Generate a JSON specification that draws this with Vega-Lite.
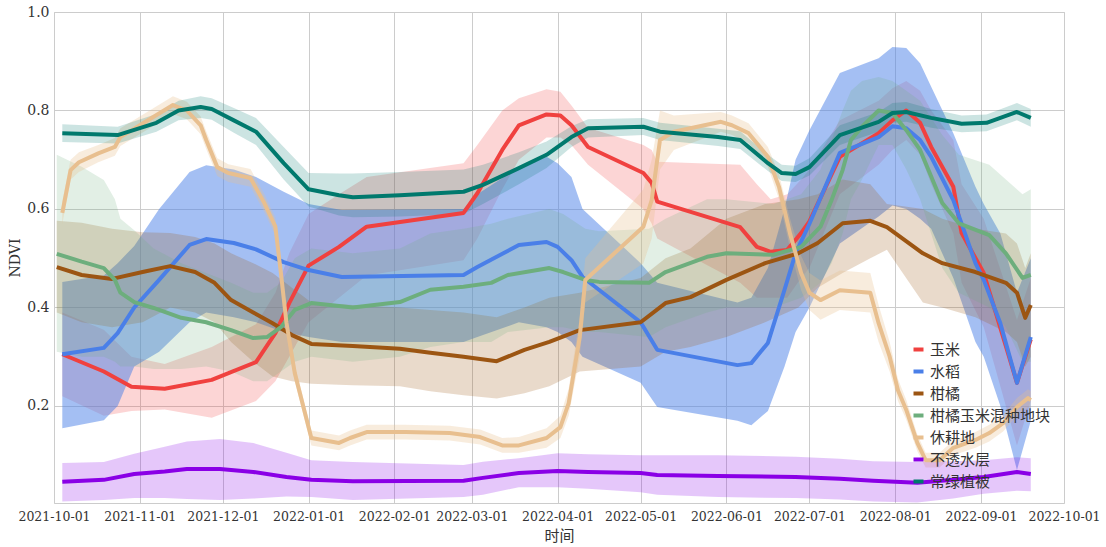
{
"$schema": "https://vega.github.io/schema/vega-lite/v6.json",
"width": 1010, "height": 491,
"autosize": {"type": "none"},
"padding": {"left": 54, "top": 12, "right": 42, "bottom": 44},
"background": "white",
"config": {
  "view": {"stroke": "#cccccc", "strokeWidth": 1},
  "axis": {"grid": true, "gridColor": "#cccccc", "gridWidth": 1, "domain": false, "ticks": false,
    "labelColor": "#333333", "titleColor": "#333333", "titleFontWeight": "normal"},
  "axisX": {"labelFont": "DejaVu Serif", "titleFont": "Noto Sans CJK SC", "labelFontSize": 12.5, "labelPadding": 7, "titleFontSize": 15, "titlePadding": 6, "labelOverlap": false, "labelBound": false, "labelFlush": false},
  "axisY": {"labelFont": "DejaVu Serif", "titleFont": "DejaVu Serif", "labelFontSize": 14, "labelPadding": 5, "titleFontSize": 14, "titlePadding": 4}
},
"data": {"format": {"parse": {"t": "utc:'%Y-%m-%d'"}}, "values": [
{"c":"玉米","t":"2021-10-04","m":0.305,"lo":0.22,"hi":0.39},
{"c":"玉米","t":"2021-10-19","m":0.27,"lo":0.18,"hi":0.355},
{"c":"玉米","t":"2021-10-29","m":0.239,"lo":0.19,"hi":0.30},
{"c":"玉米","t":"2021-11-10","m":0.235,"lo":0.193,"hi":0.285},
{"c":"玉米","t":"2021-11-27","m":0.253,"lo":0.176,"hi":0.32},
{"c":"玉米","t":"2021-12-13","m":0.289,"lo":0.21,"hi":0.366},
{"c":"玉米","t":"2021-12-20","m":0.348,"lo":0.25,"hi":0.43},
{"c":"玉米","t":"2021-12-25","m":0.409,"lo":0.30,"hi":0.51},
{"c":"玉米","t":"2022-01-01","m":0.485,"lo":0.37,"hi":0.59},
{"c":"玉米","t":"2022-01-12","m":0.523,"lo":0.42,"hi":0.63},
{"c":"玉米","t":"2022-01-22","m":0.564,"lo":0.465,"hi":0.665},
{"c":"玉米","t":"2022-02-26","m":0.592,"lo":0.496,"hi":0.693},
{"c":"玉米","t":"2022-03-03","m":0.632,"lo":0.54,"hi":0.73},
{"c":"玉米","t":"2022-03-12","m":0.72,"lo":0.64,"hi":0.80},
{"c":"玉米","t":"2022-03-18","m":0.77,"lo":0.70,"hi":0.825},
{"c":"玉米","t":"2022-03-28","m":0.792,"lo":0.745,"hi":0.843},
{"c":"玉米","t":"2022-04-02","m":0.79,"lo":0.745,"hi":0.838},
{"c":"玉米","t":"2022-04-06","m":0.77,"lo":0.73,"hi":0.81},
{"c":"玉米","t":"2022-04-12","m":0.726,"lo":0.69,"hi":0.765},
{"c":"玉米","t":"2022-05-02","m":0.673,"lo":0.60,"hi":0.73},
{"c":"玉米","t":"2022-05-05","m":0.653,"lo":0.57,"hi":0.72},
{"c":"玉米","t":"2022-05-07","m":0.615,"lo":0.54,"hi":0.696},
{"c":"玉米","t":"2022-06-06","m":0.563,"lo":0.45,"hi":0.69},
{"c":"玉米","t":"2022-06-12","m":0.523,"lo":0.42,"hi":0.65},
{"c":"玉米","t":"2022-06-17","m":0.513,"lo":0.42,"hi":0.62},
{"c":"玉米","t":"2022-06-23","m":0.517,"lo":0.42,"hi":0.63},
{"c":"玉米","t":"2022-06-28","m":0.551,"lo":0.46,"hi":0.66},
{"c":"玉米","t":"2022-07-01","m":0.575,"lo":0.48,"hi":0.68},
{"c":"玉米","t":"2022-07-12","m":0.706,"lo":0.63,"hi":0.78},
{"c":"玉米","t":"2022-07-26","m":0.754,"lo":0.69,"hi":0.82},
{"c":"玉米","t":"2022-07-31","m":0.78,"lo":0.72,"hi":0.845},
{"c":"玉米","t":"2022-08-05","m":0.80,"lo":0.74,"hi":0.86},
{"c":"玉米","t":"2022-08-10","m":0.775,"lo":0.71,"hi":0.84},
{"c":"玉米","t":"2022-08-14","m":0.726,"lo":0.65,"hi":0.80},
{"c":"玉米","t":"2022-08-22","m":0.645,"lo":0.55,"hi":0.74},
{"c":"玉米","t":"2022-08-25","m":0.551,"lo":0.45,"hi":0.65},
{"c":"玉米","t":"2022-09-02","m":0.47,"lo":0.36,"hi":0.58},
{"c":"玉米","t":"2022-09-14","m":0.247,"lo":0.12,"hi":0.375},
{"c":"玉米","t":"2022-09-19","m":0.335,"lo":0.21,"hi":0.46},

{"c":"水稻","t":"2021-10-04","m":0.305,"lo":0.155,"hi":0.452},
{"c":"水稻","t":"2021-10-19","m":0.318,"lo":0.171,"hi":0.465},
{"c":"水稻","t":"2021-10-24","m":0.348,"lo":0.20,"hi":0.49},
{"c":"水稻","t":"2021-10-30","m":0.40,"lo":0.28,"hi":0.525},
{"c":"水稻","t":"2021-11-08","m":0.456,"lo":0.31,"hi":0.60},
{"c":"水稻","t":"2021-11-19","m":0.527,"lo":0.37,"hi":0.675},
{"c":"水稻","t":"2021-11-25","m":0.539,"lo":0.39,"hi":0.689},
{"c":"水稻","t":"2021-12-05","m":0.531,"lo":0.38,"hi":0.68},
{"c":"水稻","t":"2021-12-13","m":0.518,"lo":0.37,"hi":0.665},
{"c":"水稻","t":"2021-12-23","m":0.492,"lo":0.35,"hi":0.635},
{"c":"水稻","t":"2022-01-01","m":0.476,"lo":0.34,"hi":0.61},
{"c":"水稻","t":"2022-01-13","m":0.462,"lo":0.33,"hi":0.598},
{"c":"水稻","t":"2022-02-26","m":0.466,"lo":0.33,"hi":0.60},
{"c":"水稻","t":"2022-03-03","m":0.482,"lo":0.34,"hi":0.63},
{"c":"水稻","t":"2022-03-18","m":0.527,"lo":0.37,"hi":0.685},
{"c":"水稻","t":"2022-03-28","m":0.533,"lo":0.36,"hi":0.706},
{"c":"水稻","t":"2022-04-01","m":0.523,"lo":0.35,"hi":0.693},
{"c":"水稻","t":"2022-04-06","m":0.496,"lo":0.33,"hi":0.665},
{"c":"水稻","t":"2022-04-10","m":0.462,"lo":0.30,"hi":0.60},
{"c":"水稻","t":"2022-05-01","m":0.37,"lo":0.247,"hi":0.49},
{"c":"水稻","t":"2022-05-07","m":0.314,"lo":0.198,"hi":0.45},
{"c":"水稻","t":"2022-06-05","m":0.283,"lo":0.17,"hi":0.41},
{"c":"水稻","t":"2022-06-10","m":0.287,"lo":0.161,"hi":0.42},
{"c":"水稻","t":"2022-06-16","m":0.328,"lo":0.19,"hi":0.48},
{"c":"水稻","t":"2022-06-22","m":0.436,"lo":0.28,"hi":0.60},
{"c":"水稻","t":"2022-06-26","m":0.51,"lo":0.35,"hi":0.70},
{"c":"水稻","t":"2022-07-01","m":0.57,"lo":0.40,"hi":0.76},
{"c":"水稻","t":"2022-07-12","m":0.714,"lo":0.53,"hi":0.876},
{"c":"水稻","t":"2022-07-26","m":0.746,"lo":0.585,"hi":0.906},
{"c":"水稻","t":"2022-07-31","m":0.768,"lo":0.607,"hi":0.929},
{"c":"水稻","t":"2022-08-05","m":0.764,"lo":0.60,"hi":0.927},
{"c":"水稻","t":"2022-08-10","m":0.74,"lo":0.58,"hi":0.896},
{"c":"水稻","t":"2022-08-14","m":0.706,"lo":0.56,"hi":0.848},
{"c":"水稻","t":"2022-08-22","m":0.618,"lo":0.46,"hi":0.754},
{"c":"水稻","t":"2022-08-30","m":0.49,"lo":0.33,"hi":0.645},
{"c":"水稻","t":"2022-09-02","m":0.456,"lo":0.30,"hi":0.61},
{"c":"水稻","t":"2022-09-08","m":0.368,"lo":0.20,"hi":0.55},
{"c":"水稻","t":"2022-09-14","m":0.247,"lo":0.07,"hi":0.43},
{"c":"水稻","t":"2022-09-19","m":0.34,"lo":0.17,"hi":0.50},

{"c":"柑橘","t":"2021-10-02","m":0.482,"lo":0.39,"hi":0.576},
{"c":"柑橘","t":"2021-10-11","m":0.466,"lo":0.37,"hi":0.572},
{"c":"柑橘","t":"2021-10-22","m":0.458,"lo":0.36,"hi":0.56},
{"c":"柑橘","t":"2021-11-02","m":0.472,"lo":0.37,"hi":0.553},
{"c":"柑橘","t":"2021-11-12","m":0.484,"lo":0.40,"hi":0.551},
{"c":"柑橘","t":"2021-11-21","m":0.472,"lo":0.39,"hi":0.543},
{"c":"柑橘","t":"2021-11-28","m":0.45,"lo":0.37,"hi":0.53},
{"c":"柑橘","t":"2021-12-04","m":0.415,"lo":0.33,"hi":0.51},
{"c":"柑橘","t":"2021-12-12","m":0.39,"lo":0.29,"hi":0.49},
{"c":"柑橘","t":"2021-12-19","m":0.368,"lo":0.26,"hi":0.47},
{"c":"柑橘","t":"2021-12-26","m":0.344,"lo":0.25,"hi":0.44},
{"c":"柑橘","t":"2022-01-02","m":0.326,"lo":0.245,"hi":0.41},
{"c":"柑橘","t":"2022-01-17","m":0.322,"lo":0.242,"hi":0.405},
{"c":"柑橘","t":"2022-02-03","m":0.316,"lo":0.24,"hi":0.40},
{"c":"柑橘","t":"2022-02-14","m":0.308,"lo":0.23,"hi":0.395},
{"c":"柑橘","t":"2022-02-26","m":0.30,"lo":0.222,"hi":0.39},
{"c":"柑橘","t":"2022-03-10","m":0.291,"lo":0.215,"hi":0.38},
{"c":"柑橘","t":"2022-03-20","m":0.314,"lo":0.226,"hi":0.40},
{"c":"柑橘","t":"2022-03-29","m":0.33,"lo":0.24,"hi":0.42},
{"c":"柑橘","t":"2022-04-09","m":0.354,"lo":0.27,"hi":0.43},
{"c":"柑橘","t":"2022-05-01","m":0.37,"lo":0.28,"hi":0.46},
{"c":"柑橘","t":"2022-05-10","m":0.409,"lo":0.31,"hi":0.50},
{"c":"柑橘","t":"2022-05-19","m":0.421,"lo":0.32,"hi":0.52},
{"c":"柑橘","t":"2022-06-01","m":0.456,"lo":0.34,"hi":0.58},
{"c":"柑橘","t":"2022-06-15","m":0.49,"lo":0.37,"hi":0.61},
{"c":"柑橘","t":"2022-06-27","m":0.51,"lo":0.40,"hi":0.62},
{"c":"柑橘","t":"2022-07-04","m":0.531,"lo":0.44,"hi":0.63},
{"c":"柑橘","t":"2022-07-13","m":0.571,"lo":0.47,"hi":0.66},
{"c":"柑橘","t":"2022-07-23","m":0.576,"lo":0.50,"hi":0.65},
{"c":"柑橘","t":"2022-07-29","m":0.563,"lo":0.517,"hi":0.61},
{"c":"柑橘","t":"2022-08-11","m":0.51,"lo":0.41,"hi":0.60},
{"c":"柑橘","t":"2022-08-18","m":0.49,"lo":0.40,"hi":0.58},
{"c":"柑橘","t":"2022-08-30","m":0.472,"lo":0.38,"hi":0.56},
{"c":"柑橘","t":"2022-09-10","m":0.45,"lo":0.35,"hi":0.55},
{"c":"柑橘","t":"2022-09-14","m":0.43,"lo":0.33,"hi":0.53},
{"c":"柑橘","t":"2022-09-17","m":0.379,"lo":0.28,"hi":0.48},
{"c":"柑橘","t":"2022-09-19","m":0.405,"lo":0.30,"hi":0.51},

{"c":"柑橘玉米混种地块","t":"2021-10-02","m":0.509,"lo":0.31,"hi":0.71},
{"c":"柑橘玉米混种地块","t":"2021-10-11","m":0.493,"lo":0.30,"hi":0.686},
{"c":"柑橘玉米混种地块","t":"2021-10-19","m":0.48,"lo":0.30,"hi":0.659},
{"c":"柑橘玉米混种地块","t":"2021-10-23","m":0.456,"lo":0.29,"hi":0.62},
{"c":"柑橘玉米混种地块","t":"2021-10-25","m":0.43,"lo":0.28,"hi":0.58},
{"c":"柑橘玉米混种地块","t":"2021-10-30","m":0.411,"lo":0.28,"hi":0.557},
{"c":"柑橘玉米混种地块","t":"2021-11-06","m":0.399,"lo":0.275,"hi":0.52},
{"c":"柑橘玉米混种地块","t":"2021-11-16","m":0.379,"lo":0.275,"hi":0.49},
{"c":"柑橘玉米混种地块","t":"2021-11-25","m":0.37,"lo":0.28,"hi":0.47},
{"c":"柑橘玉米混种地块","t":"2021-12-04","m":0.354,"lo":0.27,"hi":0.45},
{"c":"柑橘玉米混种地块","t":"2021-12-12","m":0.338,"lo":0.25,"hi":0.43},
{"c":"柑橘玉米混种地块","t":"2021-12-17","m":0.34,"lo":0.25,"hi":0.43},
{"c":"柑橘玉米混种地块","t":"2021-12-22","m":0.36,"lo":0.27,"hi":0.45},
{"c":"柑橘玉米混种地块","t":"2021-12-27","m":0.395,"lo":0.29,"hi":0.50},
{"c":"柑橘玉米混种地块","t":"2022-01-02","m":0.409,"lo":0.30,"hi":0.52},
{"c":"柑橘玉米混种地块","t":"2022-01-17","m":0.40,"lo":0.29,"hi":0.51},
{"c":"柑橘玉米混种地块","t":"2022-02-03","m":0.411,"lo":0.30,"hi":0.52},
{"c":"柑橘玉米混种地块","t":"2022-02-14","m":0.436,"lo":0.32,"hi":0.55},
{"c":"柑橘玉米混种地块","t":"2022-02-26","m":0.442,"lo":0.33,"hi":0.56},
{"c":"柑橘玉米混种地块","t":"2022-03-08","m":0.45,"lo":0.33,"hi":0.57},
{"c":"柑橘玉米混种地块","t":"2022-03-14","m":0.466,"lo":0.35,"hi":0.58},
{"c":"柑橘玉米混种地块","t":"2022-03-29","m":0.48,"lo":0.36,"hi":0.60},
{"c":"柑橘玉米混种地块","t":"2022-04-03","m":0.472,"lo":0.36,"hi":0.59},
{"c":"柑橘玉米混种地块","t":"2022-04-11","m":0.456,"lo":0.35,"hi":0.56},
{"c":"柑橘玉米混种地块","t":"2022-04-16","m":0.452,"lo":0.35,"hi":0.555},
{"c":"柑橘玉米混种地块","t":"2022-05-04","m":0.45,"lo":0.34,"hi":0.56},
{"c":"柑橘玉米混种地块","t":"2022-05-10","m":0.472,"lo":0.36,"hi":0.58},
{"c":"柑橘玉米混种地块","t":"2022-05-25","m":0.503,"lo":0.39,"hi":0.62},
{"c":"柑橘玉米混种地块","t":"2022-06-01","m":0.51,"lo":0.40,"hi":0.62},
{"c":"柑橘玉米混种地块","t":"2022-06-18","m":0.507,"lo":0.40,"hi":0.61},
{"c":"柑橘玉米混种地块","t":"2022-06-28","m":0.523,"lo":0.42,"hi":0.63},
{"c":"柑橘玉米混种地块","t":"2022-07-05","m":0.564,"lo":0.45,"hi":0.68},
{"c":"柑橘玉米混种地块","t":"2022-07-09","m":0.618,"lo":0.49,"hi":0.74},
{"c":"柑橘玉米混种地块","t":"2022-07-13","m":0.679,"lo":0.55,"hi":0.80},
{"c":"柑橘玉米混种地块","t":"2022-07-16","m":0.74,"lo":0.62,"hi":0.84},
{"c":"柑橘玉米混种地块","t":"2022-07-20","m":0.767,"lo":0.66,"hi":0.86},
{"c":"柑橘玉米混种地块","t":"2022-07-26","m":0.80,"lo":0.73,"hi":0.868},
{"c":"柑橘玉米混种地块","t":"2022-07-31","m":0.795,"lo":0.73,"hi":0.86},
{"c":"柑橘玉米混种地块","t":"2022-08-05","m":0.76,"lo":0.68,"hi":0.84},
{"c":"柑橘玉米混种地块","t":"2022-08-10","m":0.72,"lo":0.62,"hi":0.82},
{"c":"柑橘玉米混种地块","t":"2022-08-18","m":0.612,"lo":0.48,"hi":0.75},
{"c":"柑橘玉米混种地块","t":"2022-08-24","m":0.571,"lo":0.43,"hi":0.71},
{"c":"柑橘玉米混种地块","t":"2022-09-04","m":0.547,"lo":0.40,"hi":0.69},
{"c":"柑橘玉米混种地块","t":"2022-09-10","m":0.51,"lo":0.36,"hi":0.66},
{"c":"柑橘玉米混种地块","t":"2022-09-16","m":0.46,"lo":0.29,"hi":0.63},
{"c":"柑橘玉米混种地块","t":"2022-09-19","m":0.466,"lo":0.29,"hi":0.64},

{"c":"休耕地","t":"2021-10-04","m":0.592,"lo":0.57,"hi":0.615},
{"c":"休耕地","t":"2021-10-07","m":0.679,"lo":0.66,"hi":0.70},
{"c":"休耕地","t":"2021-10-10","m":0.695,"lo":0.675,"hi":0.715},
{"c":"休耕地","t":"2021-10-17","m":0.713,"lo":0.695,"hi":0.73},
{"c":"休耕地","t":"2021-10-23","m":0.726,"lo":0.708,"hi":0.744},
{"c":"休耕地","t":"2021-10-25","m":0.746,"lo":0.728,"hi":0.764},
{"c":"休耕地","t":"2021-11-01","m":0.77,"lo":0.752,"hi":0.788},
{"c":"休耕地","t":"2021-11-13","m":0.811,"lo":0.793,"hi":0.829},
{"c":"休耕地","t":"2021-11-18","m":0.80,"lo":0.782,"hi":0.818},
{"c":"休耕地","t":"2021-11-23","m":0.77,"lo":0.752,"hi":0.788},
{"c":"休耕地","t":"2021-11-25","m":0.74,"lo":0.722,"hi":0.758},
{"c":"休耕地","t":"2021-11-29","m":0.685,"lo":0.667,"hi":0.703},
{"c":"休耕地","t":"2021-12-03","m":0.673,"lo":0.655,"hi":0.691},
{"c":"休耕地","t":"2021-12-11","m":0.663,"lo":0.645,"hi":0.681},
{"c":"休耕地","t":"2021-12-16","m":0.612,"lo":0.594,"hi":0.63},
{"c":"休耕地","t":"2021-12-20","m":0.564,"lo":0.546,"hi":0.582},
{"c":"休耕地","t":"2021-12-22","m":0.47,"lo":0.452,"hi":0.488},
{"c":"休耕地","t":"2021-12-24","m":0.369,"lo":0.351,"hi":0.387},
{"c":"休耕地","t":"2021-12-27","m":0.267,"lo":0.25,"hi":0.285},
{"c":"休耕地","t":"2022-01-02","m":0.135,"lo":0.12,"hi":0.15},
{"c":"休耕地","t":"2022-01-12","m":0.125,"lo":0.11,"hi":0.14},
{"c":"休耕地","t":"2022-01-16","m":0.135,"lo":0.12,"hi":0.15},
{"c":"休耕地","t":"2022-01-22","m":0.147,"lo":0.132,"hi":0.162},
{"c":"休耕地","t":"2022-02-05","m":0.147,"lo":0.132,"hi":0.162},
{"c":"休耕地","t":"2022-02-21","m":0.145,"lo":0.13,"hi":0.16},
{"c":"休耕地","t":"2022-03-04","m":0.137,"lo":0.122,"hi":0.152},
{"c":"休耕地","t":"2022-03-12","m":0.12,"lo":0.105,"hi":0.135},
{"c":"休耕地","t":"2022-03-18","m":0.12,"lo":0.105,"hi":0.137},
{"c":"休耕地","t":"2022-03-28","m":0.135,"lo":0.115,"hi":0.155},
{"c":"休耕地","t":"2022-04-02","m":0.157,"lo":0.135,"hi":0.18},
{"c":"休耕地","t":"2022-04-05","m":0.206,"lo":0.18,"hi":0.235},
{"c":"休耕地","t":"2022-04-09","m":0.34,"lo":0.30,"hi":0.38},
{"c":"休耕地","t":"2022-04-11","m":0.456,"lo":0.41,"hi":0.50},
{"c":"休耕地","t":"2022-05-02","m":0.564,"lo":0.49,"hi":0.64},
{"c":"休耕地","t":"2022-05-05","m":0.618,"lo":0.54,"hi":0.70},
{"c":"休耕地","t":"2022-05-08","m":0.74,"lo":0.68,"hi":0.80},
{"c":"休耕地","t":"2022-05-13","m":0.757,"lo":0.72,"hi":0.79},
{"c":"休耕地","t":"2022-05-30","m":0.777,"lo":0.757,"hi":0.797},
{"c":"休耕地","t":"2022-06-03","m":0.77,"lo":0.75,"hi":0.79},
{"c":"休耕地","t":"2022-06-09","m":0.754,"lo":0.734,"hi":0.774},
{"c":"休耕地","t":"2022-06-16","m":0.706,"lo":0.686,"hi":0.726},
{"c":"休耕地","t":"2022-06-20","m":0.645,"lo":0.62,"hi":0.67},
{"c":"休耕地","t":"2022-06-24","m":0.55,"lo":0.52,"hi":0.58},
{"c":"休耕地","t":"2022-06-28","m":0.47,"lo":0.435,"hi":0.505},
{"c":"休耕地","t":"2022-07-01","m":0.43,"lo":0.395,"hi":0.47},
{"c":"休耕地","t":"2022-07-05","m":0.415,"lo":0.375,"hi":0.455},
{"c":"休耕地","t":"2022-07-12","m":0.435,"lo":0.395,"hi":0.475},
{"c":"休耕地","t":"2022-07-23","m":0.43,"lo":0.39,"hi":0.47},
{"c":"休耕地","t":"2022-07-26","m":0.368,"lo":0.33,"hi":0.405},
{"c":"休耕地","t":"2022-07-30","m":0.30,"lo":0.27,"hi":0.33},
{"c":"休耕地","t":"2022-08-02","m":0.232,"lo":0.21,"hi":0.255},
{"c":"休耕地","t":"2022-08-05","m":0.192,"lo":0.172,"hi":0.212},
{"c":"休耕地","t":"2022-08-09","m":0.125,"lo":0.108,"hi":0.142},
{"c":"休耕地","t":"2022-08-12","m":0.09,"lo":0.075,"hi":0.105},
{"c":"休耕地","t":"2022-08-17","m":0.09,"lo":0.075,"hi":0.105},
{"c":"休耕地","t":"2022-08-22","m":0.115,"lo":0.10,"hi":0.13},
{"c":"休耕地","t":"2022-08-30","m":0.131,"lo":0.115,"hi":0.147},
{"c":"休耕地","t":"2022-09-04","m":0.145,"lo":0.128,"hi":0.162},
{"c":"休耕地","t":"2022-09-09","m":0.165,"lo":0.148,"hi":0.182},
{"c":"休耕地","t":"2022-09-14","m":0.198,"lo":0.18,"hi":0.216},
{"c":"休耕地","t":"2022-09-18","m":0.216,"lo":0.198,"hi":0.234},
{"c":"休耕地","t":"2022-09-19","m":0.212,"lo":0.194,"hi":0.23},

{"c":"不透水层","t":"2021-10-04","m":0.046,"lo":0.006,"hi":0.084},
{"c":"不透水层","t":"2021-10-19","m":0.05,"lo":0.009,"hi":0.086},
{"c":"不透水层","t":"2021-10-30","m":0.062,"lo":0.013,"hi":0.103},
{"c":"不透水层","t":"2021-11-10","m":0.067,"lo":0.013,"hi":0.117},
{"c":"不透水层","t":"2021-11-18","m":0.072,"lo":0.011,"hi":0.128},
{"c":"不透水层","t":"2021-11-30","m":0.072,"lo":0.009,"hi":0.133},
{"c":"不透水层","t":"2021-12-12","m":0.066,"lo":0.012,"hi":0.125},
{"c":"不透水层","t":"2021-12-24","m":0.056,"lo":0.016,"hi":0.105},
{"c":"不透水层","t":"2022-01-02","m":0.05,"lo":0.015,"hi":0.09},
{"c":"不透水层","t":"2022-01-17","m":0.047,"lo":0.009,"hi":0.086},
{"c":"不透水层","t":"2022-02-26","m":0.048,"lo":0.015,"hi":0.08},
{"c":"不透水层","t":"2022-03-05","m":0.054,"lo":0.02,"hi":0.087},
{"c":"不透水层","t":"2022-03-18","m":0.064,"lo":0.035,"hi":0.094},
{"c":"不透水层","t":"2022-04-01","m":0.068,"lo":0.035,"hi":0.104},
{"c":"不透水层","t":"2022-04-12","m":0.066,"lo":0.032,"hi":0.102},
{"c":"不透水层","t":"2022-05-01","m":0.064,"lo":0.025,"hi":0.10},
{"c":"不透水层","t":"2022-05-07","m":0.06,"lo":0.02,"hi":0.10},
{"c":"不透水层","t":"2022-05-29","m":0.058,"lo":0.015,"hi":0.10},
{"c":"不透水层","t":"2022-06-26","m":0.056,"lo":0.013,"hi":0.097},
{"c":"不透水层","t":"2022-07-12","m":0.052,"lo":0.01,"hi":0.093},
{"c":"不透水层","t":"2022-07-24","m":0.048,"lo":0.006,"hi":0.088},
{"c":"不透水层","t":"2022-08-09","m":0.044,"lo":0.004,"hi":0.086},
{"c":"不透水层","t":"2022-08-22","m":0.05,"lo":0.012,"hi":0.088},
{"c":"不透水层","t":"2022-09-02","m":0.056,"lo":0.022,"hi":0.09},
{"c":"不透水层","t":"2022-09-14","m":0.066,"lo":0.028,"hi":0.096},
{"c":"不透水层","t":"2022-09-19","m":0.062,"lo":0.027,"hi":0.094},

{"c":"常绿植被","t":"2021-10-04","m":0.754,"lo":0.736,"hi":0.772},
{"c":"常绿植被","t":"2021-10-24","m":0.750,"lo":0.733,"hi":0.767},
{"c":"常绿植被","t":"2021-11-07","m":0.775,"lo":0.757,"hi":0.793},
{"c":"常绿植被","t":"2021-11-15","m":0.80,"lo":0.78,"hi":0.82},
{"c":"常绿植被","t":"2021-11-23","m":0.807,"lo":0.785,"hi":0.829},
{"c":"常绿植被","t":"2021-11-27","m":0.803,"lo":0.781,"hi":0.825},
{"c":"常绿植被","t":"2021-12-05","m":0.78,"lo":0.755,"hi":0.805},
{"c":"常绿植被","t":"2021-12-13","m":0.757,"lo":0.73,"hi":0.785},
{"c":"常绿植被","t":"2021-12-23","m":0.693,"lo":0.66,"hi":0.726},
{"c":"常绿植被","t":"2022-01-01","m":0.64,"lo":0.605,"hi":0.673},
{"c":"常绿植被","t":"2022-01-12","m":0.628,"lo":0.587,"hi":0.672},
{"c":"常绿植被","t":"2022-01-17","m":0.624,"lo":0.583,"hi":0.672},
{"c":"常绿植被","t":"2022-02-03","m":0.628,"lo":0.585,"hi":0.675},
{"c":"常绿植被","t":"2022-02-26","m":0.635,"lo":0.59,"hi":0.68},
{"c":"常绿植被","t":"2022-03-05","m":0.649,"lo":0.61,"hi":0.69},
{"c":"常绿植被","t":"2022-03-18","m":0.683,"lo":0.65,"hi":0.715},
{"c":"常绿植被","t":"2022-03-28","m":0.71,"lo":0.683,"hi":0.737},
{"c":"常绿植被","t":"2022-04-06","m":0.746,"lo":0.726,"hi":0.768},
{"c":"常绿植被","t":"2022-04-12","m":0.764,"lo":0.745,"hi":0.782},
{"c":"常绿植被","t":"2022-05-02","m":0.767,"lo":0.75,"hi":0.785},
{"c":"常绿植被","t":"2022-05-08","m":0.757,"lo":0.74,"hi":0.775},
{"c":"常绿植被","t":"2022-05-29","m":0.746,"lo":0.728,"hi":0.763},
{"c":"常绿植被","t":"2022-06-06","m":0.74,"lo":0.722,"hi":0.758},
{"c":"常绿植被","t":"2022-06-16","m":0.693,"lo":0.677,"hi":0.71},
{"c":"常绿植被","t":"2022-06-21","m":0.673,"lo":0.657,"hi":0.69},
{"c":"常绿植被","t":"2022-06-26","m":0.671,"lo":0.655,"hi":0.688},
{"c":"常绿植被","t":"2022-07-01","m":0.685,"lo":0.668,"hi":0.703},
{"c":"常绿植被","t":"2022-07-12","m":0.75,"lo":0.73,"hi":0.77},
{"c":"常绿植被","t":"2022-07-26","m":0.777,"lo":0.757,"hi":0.797},
{"c":"常绿植被","t":"2022-07-31","m":0.795,"lo":0.775,"hi":0.815},
{"c":"常绿植被","t":"2022-08-05","m":0.797,"lo":0.777,"hi":0.817},
{"c":"常绿植被","t":"2022-08-14","m":0.785,"lo":0.765,"hi":0.803},
{"c":"常绿植被","t":"2022-08-25","m":0.773,"lo":0.756,"hi":0.79},
{"c":"常绿植被","t":"2022-09-03","m":0.775,"lo":0.758,"hi":0.792},
{"c":"常绿植被","t":"2022-09-14","m":0.797,"lo":0.78,"hi":0.815},
{"c":"常绿植被","t":"2022-09-19","m":0.785,"lo":0.767,"hi":0.803}
]},
"layer": [
  {"layer": [
    {"transform": [{"filter": "datum.c === '玉米'"}], "mark": {"type": "area", "color": "#f0413f", "opacity": 0.22}},
    {"transform": [{"filter": "datum.c === '水稻'"}], "mark": {"type": "area", "color": "#4a7fe8", "opacity": 0.5}},
    {"transform": [{"filter": "datum.c === '柑橘'"}], "mark": {"type": "area", "color": "#9c5512", "opacity": 0.22}},
    {"transform": [{"filter": "datum.c === '柑橘玉米混种地块'"}], "mark": {"type": "area", "color": "#6dae7d", "opacity": 0.2}},
    {"transform": [{"filter": "datum.c === '休耕地'"}], "mark": {"type": "area", "color": "#e8bf8f", "opacity": 0.3}},
    {"transform": [{"filter": "datum.c === '不透水层'"}], "mark": {"type": "area", "color": "#8a00e6", "opacity": 0.22}},
    {"transform": [{"filter": "datum.c === '常绿植被'"}], "mark": {"type": "area", "color": "#00796d", "opacity": 0.2}}
   ],
   "encoding": {
    "x": {"field": "t", "type": "temporal", "title": "时间",
      "scale": {"type": "utc", "domain": [{"year": 2021, "month": 10, "date": 1, "utc": true}, {"year": 2022, "month": 10, "date": 1, "utc": true}]},
      "axis": {"format": "%Y-%m-%d", "tickCount": {"interval": "month", "step": 1}}},
    "y": {"field": "lo", "type": "quantitative", "title": "NDVI", "scale": {"domain": [0.003, 1], "nice": false, "zero": false}, "axis": {"values": [0.2, 0.4, 0.6, 0.8, 1.0], "format": ".1f"}},
    "y2": {"field": "hi"}
   }},
  {"mark": {"type": "line", "strokeWidth": 4, "strokeJoin": "round"},
   "encoding": {
     "x": {"field": "t", "type": "temporal", "title": "时间"},
     "y": {"field": "m", "type": "quantitative", "title": "NDVI"},
     "stroke": {"field": "c", "type": "nominal",
       "scale": {"domain": ["玉米", "水稻", "柑橘", "柑橘玉米混种地块", "休耕地", "不透水层", "常绿植被"],
                 "range": ["#f0413f", "#4a7fe8", "#9c5512", "#6dae7d", "#e8bf8f", "#8a00e6", "#00796d"]},
       "legend": {"orient": "bottom-right", "offset": 13, "title": null,
         "labelFont": "Noto Sans CJK SC", "labelFontSize": 15, "labelColor": "#333333",
         "symbolType": "stroke", "symbolStrokeWidth": 4, "rowPadding": 5}}
   }}
]
}
